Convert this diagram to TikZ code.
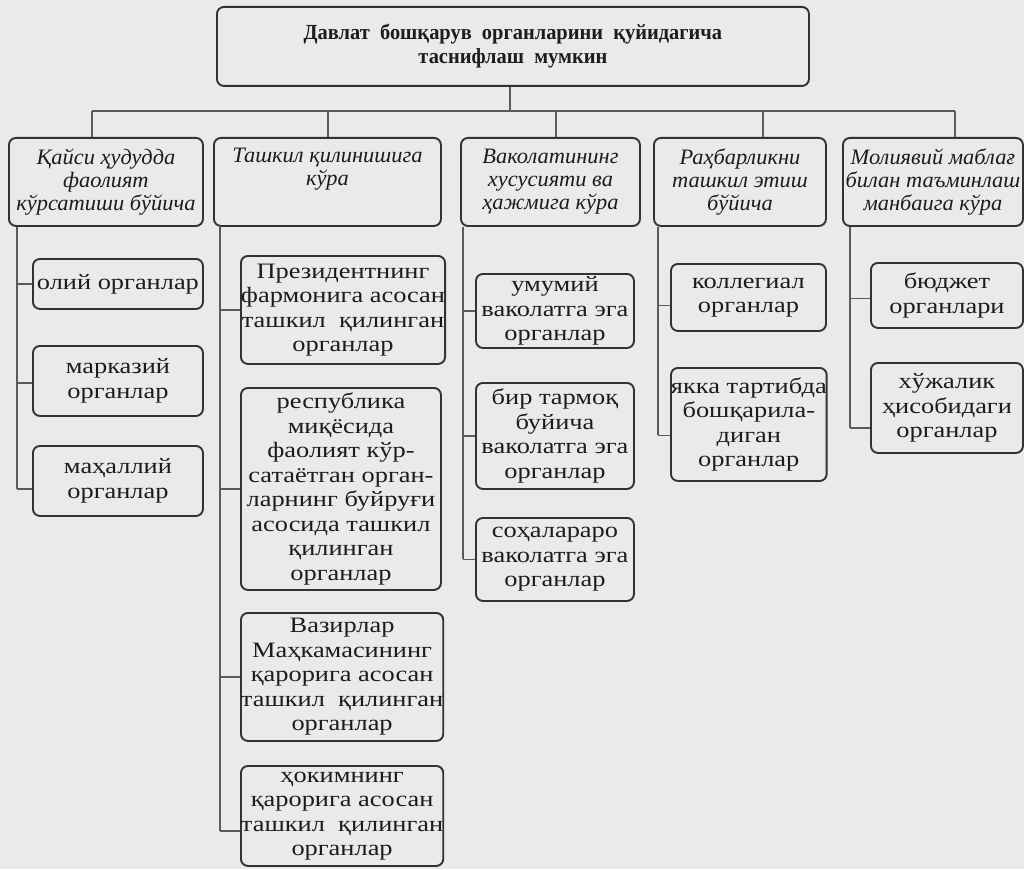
\documentclass[tikz,border=0pt]{standalone}
\usepackage{fontspec}
\setmainfont{Liberation Serif}
\newfontfamily\kidfont[FakeStretch=1.2]{Liberation Serif}
\newfontfamily\catfont[FakeStretch=1.02]{Liberation Serif}
\newfontfamily\titlefont[FakeStretch=0.95]{Liberation Serif}
\usetikzlibrary{calc}
\definecolor{bg}{RGB}{234,234,234}
\definecolor{ink}{RGB}{28,28,28}
\definecolor{edge}{RGB}{50,50,50}
\definecolor{wire}{RGB}{90,90,90}
\tikzset{
  anybox/.style={draw=edge, line width=1.9pt, rounded corners=7pt, align=center,
    inner sep=0pt, text=ink, anchor=north west},
  topbox/.style={anybox, font=\titlefont\bfseries\fontsize{21.5}{24}\selectfont},
  catbox/.style={anybox, font=\catfont\itshape\fontsize{22}{23}\selectfont},
  kidbox/.style={anybox, font=\kidfont\fontsize{22}{24.5}\selectfont},
  wire/.style={draw=wire, line width=1.3pt}
}
\begin{document}
\begin{tikzpicture}[x=1pt,y=-1pt]
\fill[bg] (0,0) rectangle (1024,869);
\useasboundingbox (0,0) rectangle (1024,869);

% top
\node[topbox, minimum width=592pt, minimum height=79pt] (top) at (216,6)
  {Давлат\ \ бошқарув\ \ органларини\ \ қуйидагича\\таснифлаш\ \ мумкин};

% categories
\node[catbox, minimum width=194pt, minimum height=88pt] (b1) at (8,137)
  {Қайси ҳудудда\\фаолият\\кўрсатиши бўйича};
\node[catbox, minimum width=227pt, minimum height=88pt] (b2) at (213,137)
  {Ташкил қилинишига\\кўра\\\strut};
\node[catbox, minimum width=179pt, minimum height=88pt] (b3) at (460,137)
  {Ваколатининг\\хусусияти ва\\ҳажмига кўра};
\node[catbox, minimum width=172pt, minimum height=88pt] (b4) at (653,137)
  {Раҳбарликни\\ташкил этиш\\бўйича};
\node[catbox, minimum width=180pt, minimum height=88pt] (b5) at (842,137)
  {Молиявий маблағ\\билан таъминлаш\\манбаига кўра};

% column 1
\node[kidbox, minimum width=170pt, minimum height=50pt] (c11) at (32,258) {олий органлар};
\node[kidbox, minimum width=170pt, minimum height=70pt] (c12) at (32,345) {марказий\\органлар};
\node[kidbox, minimum width=170pt, minimum height=70pt] (c13) at (32,445) {маҳаллий\\органлар};
% column 2
\node[kidbox, minimum width=200pt, minimum height=108pt] (c21) at (240,255)
  {Президентнинг\\фармонига асосан\\ташкил\ \ қилинган\\органлар};
\node[kidbox, minimum width=200pt, minimum height=202pt] (c22) at (240,387)
  {республика\\миқёсида\\фаолият кўр-\\сатаётган орган-\\ларнинг буйруғи\\асосида ташкил\\қилинган\\органлар};
\node[kidbox, minimum width=200pt, minimum height=128pt] (c23) at (240,612)
  {Вазирлар\\Маҳкамасининг\\қарорига асосан\\ташкил\ \ қилинган\\органлар};
\node[kidbox, minimum width=200pt, minimum height=100pt] (c24) at (240,765)
  {ҳокимнинг\\қарорига асосан\\ташкил\ \ қилинган\\органлар};
% column 3
\node[kidbox, minimum width=158pt, minimum height=74pt] (c31) at (475,273)
  {умумий\\ваколатга эга\\органлар};
\node[kidbox, minimum width=158pt, minimum height=106pt] (c32) at (475,382)
  {бир тармоқ\\буйича\\ваколатга эга\\органлар};
\node[kidbox, minimum width=158pt, minimum height=83pt] (c33) at (475,517)
  {соҳалараро\\ваколатга эга\\органлар};
% column 4
\node[kidbox, minimum width=155pt, minimum height=67pt] (c41) at (670,263)
  {коллегиал\\органлар};
\node[kidbox, minimum width=155pt, minimum height=113pt] (c42) at (670,367)
  {якка тартибда\\бошқарила-\\диган\\органлар};
% column 5
\node[kidbox, minimum width=152pt, minimum height=65pt] (c51) at (870,262)
  {бюджет\\органлари};
\node[kidbox, minimum width=152pt, minimum height=90pt] (c52) at (870,362)
  {хўжалик\\ҳисобидаги\\органлар};

% top tree
\coordinate (tc) at (510,111);
\coordinate (d1) at (92,111);
\coordinate (d2) at (328,111);
\coordinate (d3) at (556,111);
\coordinate (d4) at (763,111);
\coordinate (d5) at (955,111);
\draw[wire] (top.south -| tc) -- (tc);
\draw[wire] (d1) -- (d5);
\foreach \i in {1,...,5} \draw[wire] (d\i) -- (d\i |- b\i.north);

% column spines
\coordinate (v1) at (17,0);
\coordinate (v2) at (220,0);
\coordinate (v3) at (463,0);
\coordinate (v4) at (658,0);
\coordinate (v5) at (850,0);

\draw[wire] (b1.south -| v1) -- ([yshift=-8pt]c13.west -| v1);
\draw[wire] (c11.west -| v1) -- (c11.west);
\draw[wire] ([yshift=-2pt]c12.west -| v1) -- ([yshift=-2pt]c12.west);
\draw[wire] ([yshift=-8pt]c13.west -| v1) -- ([yshift=-8pt]c13.west);

\draw[wire] (b2.south -| v2) -- ([yshift=-15pt]c24.west -| v2);
\draw[wire] (c21.west -| v2) -- (c21.west);
\draw[wire] (c22.west -| v2) -- (c22.west);
\draw[wire] (c23.west -| v2) -- (c23.west);
\draw[wire] ([yshift=-15pt]c24.west -| v2) -- ([yshift=-15pt]c24.west);

\draw[wire] (b3.south -| v3) -- (c33.west -| v3);
\draw[wire] (c31.west -| v3) -- (c31.west);
\draw[wire] (c32.west -| v3) -- (c32.west);
\draw[wire] (c33.west -| v3) -- (c33.west);

\draw[wire] (b4.south -| v4) -- ([yshift=-11pt]c42.west -| v4);
\draw[wire] ([yshift=-8pt]c41.west -| v4) -- ([yshift=-8pt]c41.west);
\draw[wire] ([yshift=-11pt]c42.west -| v4) -- ([yshift=-11pt]c42.west);

\draw[wire] (b5.south -| v5) -- ([yshift=-20pt]c52.west -| v5);
\draw[wire] ([yshift=-3pt]c51.west -| v5) -- ([yshift=-3pt]c51.west);
\draw[wire] ([yshift=-20pt]c52.west -| v5) -- ([yshift=-20pt]c52.west);
\end{tikzpicture}
\end{document}
